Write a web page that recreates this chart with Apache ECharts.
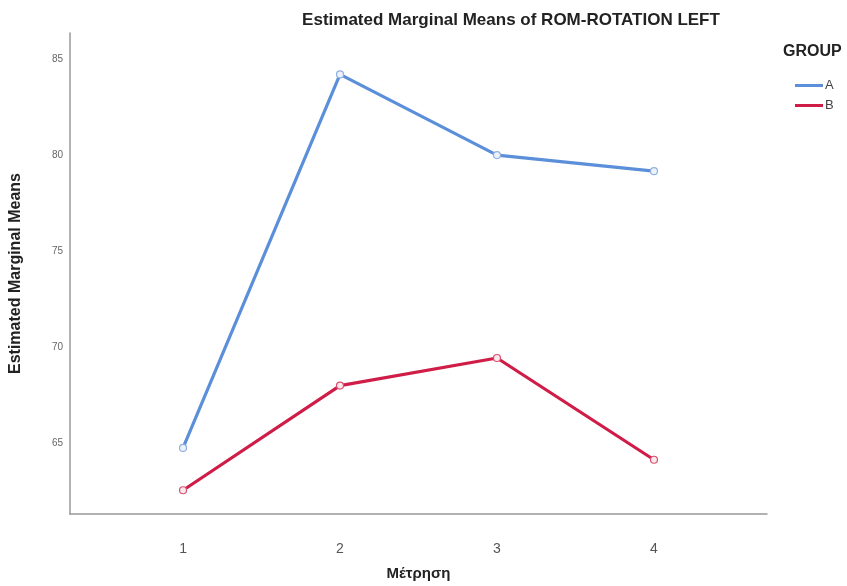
<!DOCTYPE html>
<html>
<head>
<meta charset="utf-8">
<script src="https://cdn.jsdelivr.net/npm/echarts@6/dist/echarts.min.js"></script>
<style>html,body{margin:0;padding:0;background:#fff}#c{width:847px;height:586px}</style>
</head>
<body>
<div id="c"></div>
<script>
var categories = [1, 2, 3, 4];
var xTickLabels = ['1', '2', '3', '4'];
var groupNames = ['A', 'B'];
var seriesA = [64.74, 84.23, 80.02, 79.18];
var seriesB = [62.53, 67.99, 69.43, 64.12];
var yTicks = [65, 70, 75, 80, 85];
var groupColors = ['#5b8fd9', '#cf1d48'];

var chart = echarts.init(document.getElementById('c'), null, {renderer: 'canvas'});
function pairs(vals) { return categories.map(function (c, i) { return [c, vals[i]]; }); }
var font = 'Liberation Sans, Arial, sans-serif';
chart.setOption({
  animation: false,
  backgroundColor: '#ffffff',
  title: [
    {text: 'Estimated Marginal Means of ROM-ROTATION LEFT', left: 506, top: 7, textAlign: 'center',
     textStyle: {fontFamily: font, fontSize: 17, fontWeight: 'bold', color: '#222'}},
    {text: 'GROUP', left: 778, top: 39, textStyle: {fontFamily: font, fontSize: 16, fontWeight: 'bold', color: '#222'}}
  ],
  legend: {
    orient: 'vertical', left: 790, top: 74, itemWidth: 28, itemHeight: 3, itemGap: 7,
    icon: 'rect',
    data: groupNames.map(function (n, i) { return {name: n, itemStyle: {color: groupColors[i], borderWidth: 0}}; }),
    textStyle: {fontFamily: font, fontSize: 13, color: '#444', padding: [0, 0, 0, -3]}
  },
  grid: {left: 67, right: 80, top: 33, bottom: 66},
  xAxis: {
    type: 'value', min: 0.28, max: 4.72,
    name: 'Μέτρηση', nameLocation: 'middle', nameGap: 52,
    nameTextStyle: {fontFamily: font, fontSize: 15, fontWeight: 'bold', color: '#222'},
    axisLine: {show: true, lineStyle: {color: '#999', width: 1.5}},
    axisTick: {show: false},
    splitLine: {show: false},
    axisLabel: {
      margin: 28, fontFamily: font, fontSize: 14, color: '#555',
      showMinLabel: false, showMaxLabel: false,
      formatter: function (v) { var i = categories.indexOf(v); return i >= 0 ? xTickLabels[i] : ''; }
    }
  },
  yAxis: {
    type: 'value', min: 61.29, max: 86.39,
    name: 'Estimated Marginal Means', nameLocation: 'middle', nameGap: 46,
    nameTextStyle: {fontFamily: font, fontSize: 16, fontWeight: 'bold', color: '#222'},
    axisLine: {show: true, lineStyle: {color: '#999', width: 1.5}},
    axisTick: {show: false},
    splitLine: {show: false},
    axisLabel: {
      margin: 7, fontFamily: font, fontSize: 10, color: '#666',
      showMinLabel: false, showMaxLabel: false,
      formatter: function (v) { return yTicks.indexOf(v) >= 0 ? String(v) : ''; }
    }
  },
  series: [
    {name: groupNames[0], type: 'line', data: pairs(seriesA), color: groupColors[0],
     lineStyle: {width: 3.2, color: groupColors[0]}, symbol: 'circle', symbolSize: 7,
     itemStyle: {color: '#eef3fb', borderColor: '#8fb0e2', borderWidth: 1.2}},
    {name: groupNames[1], type: 'line', data: pairs(seriesB), color: groupColors[1],
     lineStyle: {width: 3.2, color: groupColors[1]}, symbol: 'circle', symbolSize: 7,
     itemStyle: {color: '#fbe9ee', borderColor: '#d8506f', borderWidth: 1.2}}
  ]
});
</script>
</body>
</html>
